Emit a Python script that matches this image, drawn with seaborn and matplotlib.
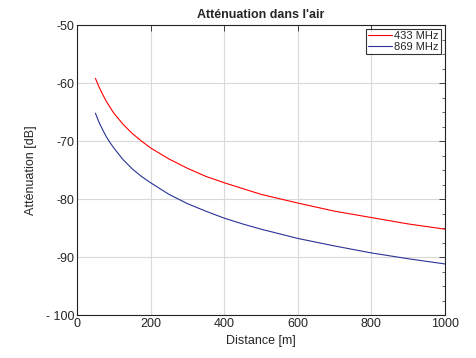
import numpy as np
import pandas as pd
import matplotlib
matplotlib.use("Agg")
import matplotlib.pyplot as plt
import seaborn as sns
from matplotlib.ticker import MultipleLocator, FuncFormatter, NullLocator

# distances [m] and attenuation [dB]
distance = [50, 60, 70, 80, 90, 100, 125, 150, 175, 200, 250, 300, 350, 400,
            450, 500, 600, 700, 800, 900, 1000]
att_433 = [-59.2, -60.7, -62.0, -63.2, -64.2, -65.2, -67.1, -68.7, -70.0, -71.2,
           -73.1, -74.7, -76.1, -77.2, -78.2, -79.2, -80.7, -82.1, -83.2, -84.3, -85.2]
att_869 = [-65.2, -66.8, -68.1, -69.3, -70.3, -71.2, -73.2, -74.8, -76.1, -77.2,
           -79.2, -80.8, -82.1, -83.3, -84.3, -85.2, -86.8, -88.1, -89.3, -90.3, -91.2]

df = pd.DataFrame({
    "Distance": distance * 2,
    "Att": att_433 + att_869,
    "Freq": ["433 MHz"] * len(distance) + ["869 MHz"] * len(distance),
})

sns.set_style("white")
plt.rcParams['font.family'] = ['Liberation Sans', 'DejaVu Sans']

fig = plt.figure(figsize=(4.77, 3.58), dpi=100)
ax = fig.add_axes([77/477, 1 - 315/358, (445-77)/477, (315-25)/358])

sns.lineplot(data=df, x="Distance", y="Att", hue="Freq",
             palette={"433 MHz": "#ff0000", "869 MHz": "#2a3399"},
             linewidth=0.8, ax=ax)

ax.set_xlim(0, 1000)
ax.set_ylim(-100, -50)
ax.xaxis.set_major_locator(MultipleLocator(200))
ax.yaxis.set_major_locator(MultipleLocator(10))
ax.xaxis.set_minor_locator(NullLocator())
ax.yaxis.set_minor_locator(MultipleLocator(2.5))
ax.yaxis.set_major_formatter(FuncFormatter(lambda v, p: "- 100" if v <= -100 else f"{v:.0f}"))
ax.grid(True, which="major", color="#d9d9d9", linewidth=0.8)
ax.tick_params(which="both", direction="in", top=True, right=True, labelsize=9, pad=2)
ax.tick_params(which="major", length=4, width=0.6)
ax.tick_params(which="minor", length=2, width=0.5)
for s in ax.spines.values():
    s.set_linewidth(0.8)
    s.set_color("#222222")

ax.set_xlabel("Distance [m]", fontsize=9)
ax.set_ylabel("Atténuation [dB]", fontsize=9, labelpad=6)
ax.set_title("Atténuation dans l'air", fontsize=9, fontweight="bold", pad=5)

leg = ax.legend(loc="upper right", fontsize=8, frameon=True, fancybox=False,
                borderpad=0.15, handlelength=2.2, handletextpad=0.2,
                labelspacing=0.1, borderaxespad=0.4)
leg.get_frame().set_edgecolor("black")
leg.get_frame().set_linewidth(0.8)

fig.savefig("out.png", dpi=100)
